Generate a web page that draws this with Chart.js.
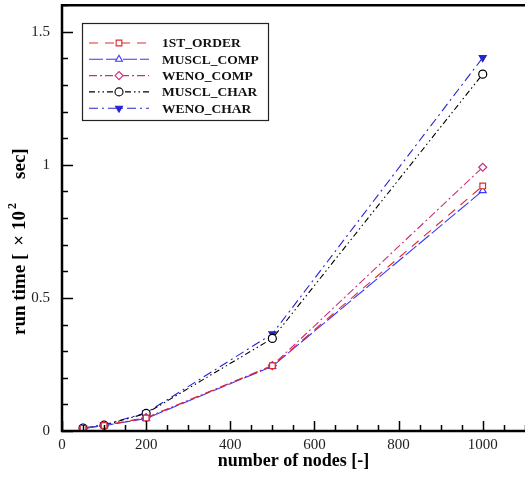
<!DOCTYPE html>
<html>
<head>
<meta charset="utf-8">
<script src="https://cdn.jsdelivr.net/npm/chart.js@4/dist/chart.umd.min.js"></script>
<style>
  html, body { margin: 0; padding: 0; background: #fff; overflow: hidden; }
</style>
</head>
<body>
<canvas id="runChart" width="530" height="477"></canvas>
<script>
// number of grid nodes
const nodes = [50, 100, 200, 500, 1000];

// run time in units of 10^2 sec
const firstOrder = [0.010, 0.021, 0.049, 0.245, 0.921];
const musclComp = [0.010, 0.020, 0.047, 0.243, 0.903];
const wenoComp = [0.010, 0.021, 0.050, 0.246, 0.991];
const musclChar = [0.011, 0.022, 0.066, 0.348, 1.341];
const wenoChar = [0.011, 0.023, 0.068, 0.365, 1.403];

const xTicks = [0, 200, 400, 600, 800, 1000];
const yTicks = [0, 0.5, 1, 1.5];

const serif = "'Liberation Serif', 'Times New Roman', serif";

function series(label, values, color, dash, style, fill, rotation) {
  return {
    label: label,
    data: nodes.map((n, i) => ({ x: n, y: values[i] })),
    borderColor: color,
    borderWidth: 1.1,
    borderDash: dash,
    pointStyle: style,
    pointRotation: rotation || 0,
    pointRadius: 4,
    pointBorderWidth: 1.2,
    pointBorderColor: color,
    pointBackgroundColor: fill,
    fill: false,
    tension: 0,
  };
}

const datasets = [
  series("1ST_ORDER", firstOrder, "#e02828", [9, 7], "rect", "#fff"),
  series("MUSCL_COMP", musclComp, "#3838ff", [14, 3], "triangle", "#fff"),
  series("WENO_COMP", wenoComp, "#c8307a", [8, 3, 2, 3], "rectRot", "#fff"),
  series("MUSCL_CHAR", musclChar, "#000000", [6, 3, 1.5, 3, 1.5, 3], "circle", "#fff"),
  series("WENO_CHAR", wenoChar, "#2424d0", [9, 4, 2, 4], "triangle", "#2424d0", 180),
];

// frame lines and inward ticks (major + minor)
const framePlugin = {
  id: "frame",
  afterDraw(chart) {
    const { ctx, chartArea: a, scales } = chart;
    ctx.save();
    ctx.strokeStyle = "#000";
    ctx.lineWidth = 1.5;
    ctx.beginPath();
    for (let v = 0; v <= 1100; v += 50) {
      const px = Math.round(scales.x.getPixelForValue(v)) + 0.5;
      const len = v % 200 === 0 ? 10 : 6;
      ctx.moveTo(px, a.bottom);
      ctx.lineTo(px, a.bottom - len);
    }
    for (let k = 0; k <= 16; k++) {
      const v = k / 10;
      const py = Math.round(scales.y.getPixelForValue(v)) + 0.5;
      const len = k % 5 === 0 ? 11 : 6;
      ctx.moveTo(a.left, py);
      ctx.lineTo(a.left + len, py);
    }
    ctx.stroke();

    ctx.lineWidth = 2.5;
    ctx.beginPath();
    ctx.moveTo(a.right + 2, a.top);
    ctx.lineTo(a.left, a.top);
    ctx.lineTo(a.left, a.bottom);
    ctx.lineTo(a.right + 2, a.bottom);
    ctx.stroke();
    ctx.restore();
  },
};

// rotated y title with a raised exponent; pieces run bottom to top
const yTitlePlugin = {
  id: "yTitle",
  afterDraw(chart) {
    const ctx = chart.ctx;
    const pieces = [
      { t: "run time [", size: 19, rise: 0, after: 8 },
      { t: "×", size: 19, rise: 0, after: 5 },
      { t: "10", size: 19, rise: 0, after: 2 },
      { t: "2", size: 12, rise: -7, after: 24 },
      { t: "sec]", size: 19, rise: 0, after: 0 },
    ];
    ctx.save();
    ctx.translate(20, 335);
    ctx.rotate(-Math.PI / 2);
    ctx.fillStyle = "#000";
    ctx.textBaseline = "middle";
    let x = 0;
    pieces.forEach((p) => {
      ctx.font = "bold " + p.size + "px " + serif;
      ctx.fillText(p.t, x, p.rise);
      x += ctx.measureText(p.t).width + p.after;
    });
    ctx.restore();
  },
};

// boxed legend with line sample and marker for each series
const legendPlugin = {
  id: "boxLegend",
  afterDraw(chart) {
    const ctx = chart.ctx;
    const box = { x: 82, y: 23, w: 186, h: 97 };
    ctx.save();
    ctx.fillStyle = "#fff";
    ctx.fillRect(box.x, box.y, box.w, box.h);
    ctx.strokeStyle = "#222";
    ctx.lineWidth = 1.2;
    ctx.strokeRect(box.x + 0.5, box.y + 0.5, box.w, box.h);
    ctx.font = "bold 13.5px " + serif;
    ctx.textBaseline = "middle";
    chart.data.datasets.forEach((ds, i) => {
      const y = 43 + i * 16.3;
      ctx.strokeStyle = ds.borderColor;
      ctx.lineWidth = 1.1;
      ctx.setLineDash(ds.borderDash);
      ctx.beginPath();
      ctx.moveTo(89, y);
      ctx.lineTo(149, y);
      ctx.stroke();
      ctx.setLineDash([]);
      ctx.fillStyle = ds.pointBackgroundColor;
      ctx.strokeStyle = ds.pointBorderColor;
      Chart.helpers.drawPoint(ctx, {
        pointStyle: ds.pointStyle,
        rotation: ds.pointRotation,
        radius: 4,
        borderWidth: 1.2,
      }, 119, y);
      ctx.fillStyle = "#111";
      ctx.fillText(ds.label, 162, y + 1);
    });
    ctx.restore();
  },
};

new Chart(document.getElementById("runChart"), {
  type: "line",
  data: { datasets: datasets },
  plugins: [framePlugin, yTitlePlugin, legendPlugin],
  options: {
    responsive: false,
    animation: false,
    layout: { padding: { top: 5, right: 2, left: 0, bottom: 0 } },
    plugins: {
      legend: { display: false },
      tooltip: { enabled: false },
    },
    scales: {
      x: {
        type: "linear",
        min: 0,
        max: 1100,
        grid: { display: false, drawTicks: false },
        border: { display: false },
        afterFit(scale) {
          scale.height = 46;
          scale.paddingLeft = 0;
          scale.paddingRight = 0;
        },
        afterBuildTicks(scale) { scale.ticks = xTicks.map((v) => ({ value: v })); },
        ticks: {
          includeBounds: false,
          padding: 5,
          color: "#222",
          font: { family: serif, size: 15 },
          maxRotation: 0,
          callback: (v) => String(v),
        },
        title: {
          display: true,
          text: "number of nodes [-]",
          color: "#000",
          font: { family: serif, size: 18, weight: "bold" },
          padding: { top: 5, bottom: 5 },
        },
      },
      y: {
        type: "linear",
        min: 0,
        max: 1.6,
        grid: { display: false, drawTicks: false },
        border: { display: false },
        afterFit(scale) {
          scale.width = 62;
          scale.paddingTop = 0;
          scale.paddingBottom = 0;
        },
        afterBuildTicks(scale) { scale.ticks = yTicks.map((v) => ({ value: v })); },
        ticks: {
          includeBounds: false,
          padding: 12,
          color: "#222",
          font: { family: serif, size: 15 },
          callback: (v) => String(v),
        },
      },
    },
  },
});
</script>
</body>
</html>
